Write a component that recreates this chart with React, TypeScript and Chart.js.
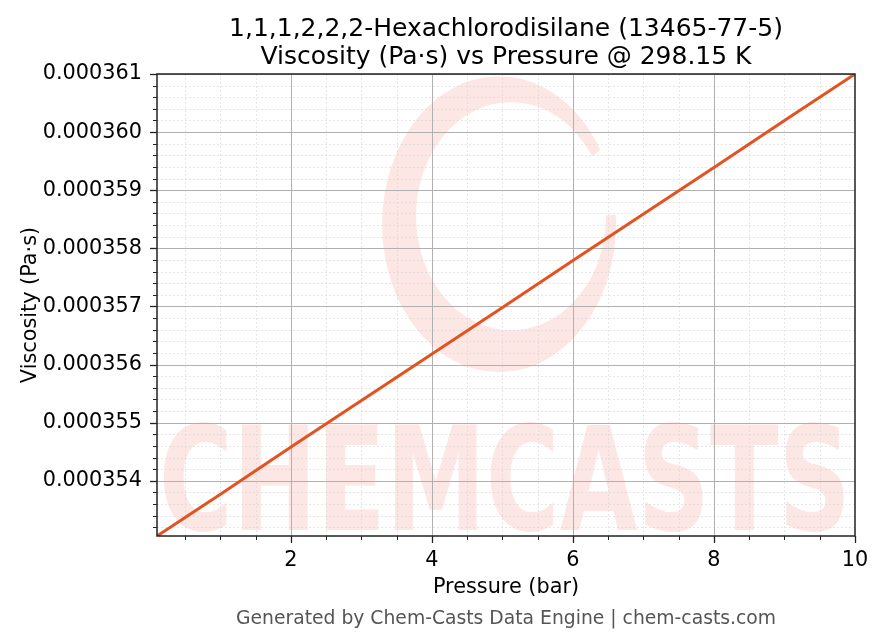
import React, { useEffect, useRef } from "react";
import { Chart, registerables } from "chart.js";

Chart.register(...registerables);

const FONT = "'DejaVu Sans', 'Liberation Sans', sans-serif";

const titleLines = [
  "1,1,1,2,2,2-Hexachlorodisilane (13465-77-5)",
  "Viscosity (Pa·s) vs Pressure @ 298.15 K",
];
const xAxisTitle = "Pressure (bar)";
const yAxisTitle = "Viscosity (Pa·s)";
const footerText = "Generated by Chem-Casts Data Engine | chem-casts.com";
const watermarkText = "CHEMCASTS";

// data
const pressure = [0.1, 1, 2, 3, 4, 5, 6, 7, 8, 9, 10];
const viscosity = [
  0.00035305, 0.00035377, 0.00035458, 0.00035538, 0.00035618, 0.00035698,
  0.00035779, 0.00035859, 0.00035939, 0.0003602, 0.000361,
];

const xRange = [0.1, 10];
const yRange = [0.00035305, 0.000361];

const xMajorTicks = [2, 4, 6, 8, 10];
const xMinorStep = 0.5;
const yMajorTicks = [
  0.000354, 0.000355, 0.000356, 0.000357, 0.000358, 0.000359, 0.00036, 0.000361,
];
const yMinorStep = 2e-7;

const lineColor = "#E2531F";

function minorList(min: number, max: number, step: number, majors: number[]) {
  const out: number[] = [];
  const k0 = Math.ceil(min / step - 1e-9);
  const k1 = Math.floor(max / step + 1e-9);
  for (let k = k0; k <= k1; k++) {
    const v = k * step;
    if (!majors.some((m) => Math.abs(m - v) < step * 1e-3)) out.push(v);
  }
  return out;
}

const decorPlugin = {
  id: "decor",
  beforeDatasetsDraw(chart: any) {
    const { ctx, chartArea: a, scales } = chart;
    const x = scales.x;
    const y = scales.y;
    ctx.save();
    ctx.beginPath();
    ctx.rect(a.left, a.top, a.right - a.left, a.bottom - a.top);
    ctx.clip();

    // watermark swirl
    const wm = "rgb(253,231,228)";
    ctx.save();
    const cx = a.left + (a.right - a.left) * 0.49;
    const cy = a.top + (a.bottom - a.top) * 0.325;
    ctx.beginPath();
    ctx.moveTo(cx, cy);
    ctx.arc(cx, cy, 400, -0.08, Math.PI * 2 - 0.63, false);
    ctx.closePath();
    ctx.clip();
    ctx.beginPath();
    ctx.ellipse(cx, cy, 117, 148, 0, 0, Math.PI * 2);
    ctx.ellipse(cx + 12, cy - 8, 95, 114, 0, 0, Math.PI * 2);
    ctx.fillStyle = wm;
    ctx.fill("evenodd");
    ctx.restore();

    // watermark text
    ctx.save();
    ctx.fillStyle = wm;
    ctx.font = `bold 145px ${FONT}`;
    ctx.textBaseline = "alphabetic";
    ctx.textAlign = "left";
    const tw = ctx.measureText(watermarkText).width;
    const target = a.right - a.left - 6;
    ctx.translate(a.left + 2, a.bottom - 6);
    ctx.scale(target / tw, 1);
    ctx.fillText(watermarkText, 0, 0);
    ctx.restore();

    // minor grid
    ctx.lineWidth = 0.6;
    ctx.strokeStyle = "#d6d6d6";
    ctx.setLineDash([2, 2]);
    for (const v of minorList(xRange[0], xRange[1], xMinorStep, xMajorTicks)) {
      const px = Math.round(x.getPixelForValue(v)) + 0.5;
      ctx.beginPath();
      ctx.moveTo(px, a.top);
      ctx.lineTo(px, a.bottom);
      ctx.stroke();
    }
    for (const v of minorList(yRange[0], yRange[1], yMinorStep, yMajorTicks)) {
      const py = Math.round(y.getPixelForValue(v)) + 0.5;
      ctx.beginPath();
      ctx.moveTo(a.left, py);
      ctx.lineTo(a.right, py);
      ctx.stroke();
    }
    // major grid
    ctx.setLineDash([]);
    ctx.lineWidth = 1;
    ctx.strokeStyle = "#b0b0b0";
    for (const v of xMajorTicks) {
      const px = Math.round(x.getPixelForValue(v)) + 0.5;
      ctx.beginPath();
      ctx.moveTo(px, a.top);
      ctx.lineTo(px, a.bottom);
      ctx.stroke();
    }
    for (const v of yMajorTicks) {
      const py = Math.round(y.getPixelForValue(v)) + 0.5;
      ctx.beginPath();
      ctx.moveTo(a.left, py);
      ctx.lineTo(a.right, py);
      ctx.stroke();
    }
    ctx.restore();
  },
  afterDatasetsDraw(chart: any) {
    const { ctx, chartArea: a, scales } = chart;
    const x = scales.x;
    const y = scales.y;
    ctx.save();
    // frame
    ctx.strokeStyle = "#222";
    ctx.lineWidth = 1.5;
    ctx.strokeRect(a.left, a.top, a.right - a.left, a.bottom - a.top);
    // ticks
    ctx.lineWidth = 1.3;
    const drawX = (v: number, len: number) => {
      const px = Math.round(x.getPixelForValue(v)) + 0.5;
      ctx.beginPath();
      ctx.moveTo(px, a.bottom);
      ctx.lineTo(px, a.bottom + len);
      ctx.stroke();
    };
    const drawY = (v: number, len: number) => {
      const py = Math.round(y.getPixelForValue(v)) + 0.5;
      ctx.beginPath();
      ctx.moveTo(a.left, py);
      ctx.lineTo(a.left - len, py);
      ctx.stroke();
    };
    xMajorTicks.forEach((v) => drawX(v, 7));
    yMajorTicks.forEach((v) => drawY(v, 7));
    ctx.lineWidth = 1;
    minorList(xRange[0], xRange[1], xMinorStep, xMajorTicks).forEach((v) => drawX(v, 4));
    minorList(yRange[0], yRange[1], yMinorStep, yMajorTicks).forEach((v) => drawY(v, 4));

    // title
    const mid = (a.left + a.right) / 2;
    ctx.fillStyle = "#000";
    ctx.textAlign = "center";
    ctx.textBaseline = "alphabetic";
    ctx.font = `25px ${FONT}`;
    ctx.fillText(titleLines[0], mid, 36);
    ctx.fillText(titleLines[1], mid, 63.5);

    // footer
    ctx.fillStyle = "#555";
    ctx.font = `18.75px ${FONT}`;
    ctx.fillText(footerText, mid, 624);
    ctx.restore();
  },
};

export default function App() {
  const ref = useRef<HTMLCanvasElement | null>(null);
  useEffect(() => {
    if (!ref.current) return;
    const chart = new Chart(ref.current, {
      type: "line",
      data: {
        datasets: [
          {
            data: pressure.map((p, i) => ({ x: p, y: viscosity[i] })),
            borderColor: lineColor,
            borderWidth: 3,
            pointRadius: 0,
            tension: 0,
            fill: false,
          },
        ],
      },
      options: {
        responsive: false,
        animation: false,
        devicePixelRatio: 1,
        layout: { padding: { top: 74, right: 28, bottom: 44, left: 0 } },
        plugins: {
          legend: { display: false },
          title: { display: false },
          tooltip: { enabled: false },
        },
        scales: {
          x: {
            type: "linear",
            min: xRange[0],
            max: xRange[1],
            afterBuildTicks: (s: any) => {
              s.ticks = xMajorTicks.map((v) => ({ value: v }));
            },
            afterFit: (s: any) => {
              s.height = 64;
            },
            ticks: {
              autoSkip: false,
              maxRotation: 0,
              padding: 5,
              color: "#000",
              font: { family: FONT, size: 20.8 },
              callback: (v: any) => String(v),
            },
            grid: {
              drawOnChartArea: false,
              drawTicks: true,
              tickLength: 7,
              tickColor: "rgba(0,0,0,0)",
            },
            border: { display: false },
            title: {
              display: true,
              text: xAxisTitle,
              color: "#000",
              font: { family: FONT, size: 20.8 },
              padding: { top: 0, bottom: 0 },
            },
          },
          y: {
            type: "linear",
            min: yRange[0],
            max: yRange[1],
            afterBuildTicks: (s: any) => {
              s.ticks = yMajorTicks.map((v) => ({ value: v }));
            },
            afterFit: (s: any) => {
              s.width = 157;
            },
            ticks: {
              autoSkip: false,
              padding: 8,
              color: "#000",
              font: { family: FONT, size: 20.8 },
              callback: (v: any) => Number(v).toFixed(6),
            },
            grid: {
              drawOnChartArea: false,
              drawTicks: true,
              tickLength: 7,
              tickColor: "rgba(0,0,0,0)",
            },
            border: { display: false },
            title: {
              display: true,
              text: yAxisTitle,
              color: "#000",
              font: { family: FONT, size: 20.8 },
              padding: { top: 18, bottom: 0 },
            },
          },
        },
      },
      plugins: [decorPlugin],
    } as any);
    return () => chart.destroy();
  }, []);
  return (
    <div style={{ position: "absolute", left: 0, top: 0, width: 883, height: 644, background: "#fff" }}>
      <canvas ref={ref} width={883} height={644} style={{ width: 883, height: 644, display: "block" }} />
    </div>
  );
}
